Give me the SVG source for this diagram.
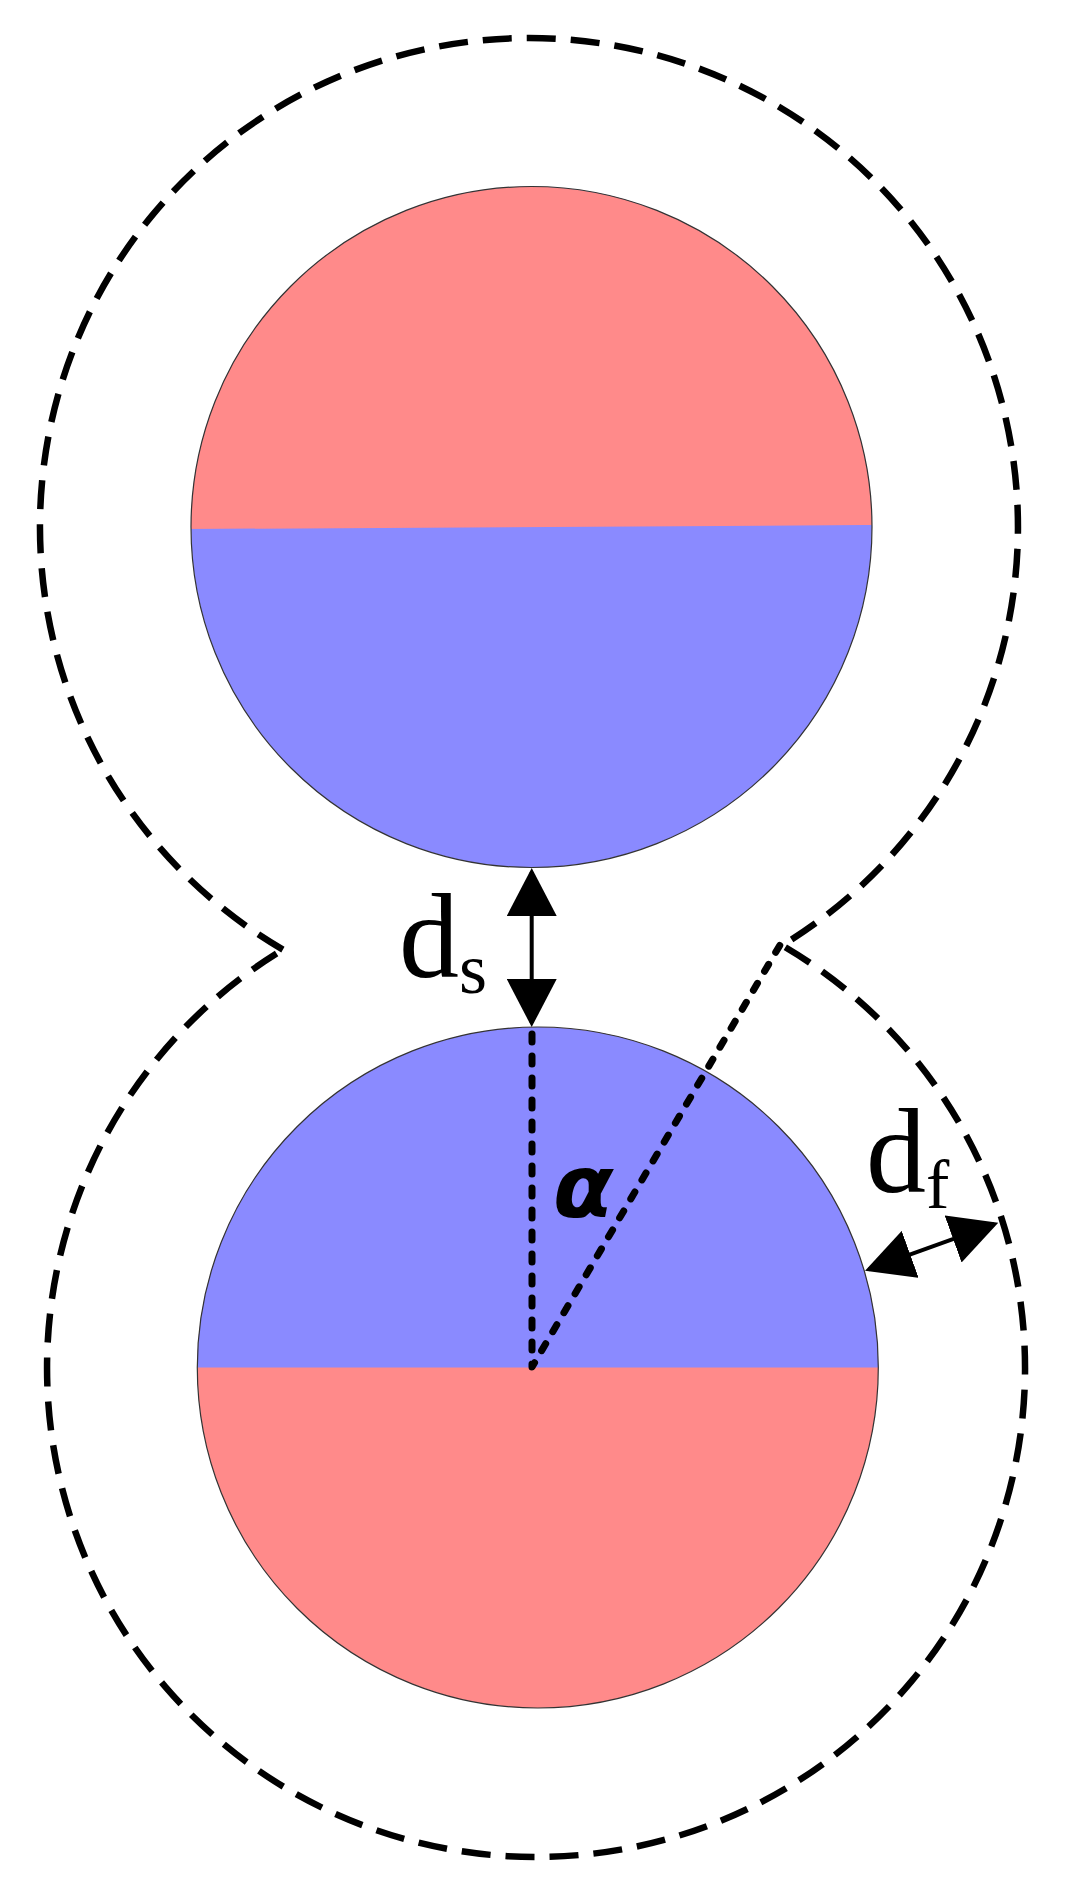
<svg xmlns="http://www.w3.org/2000/svg" width="1076" height="1897" viewBox="0 0 1076 1897">
<style>
.red{fill:#ff8a8a;stroke:none}
.blue{fill:#8a8aff;stroke:none}
.rim{fill:none;stroke:#333;stroke-width:1.2}
.outline{fill:none;stroke:#000;stroke-width:6.5;stroke-dasharray:29 15}
.dots{fill:none;stroke:#000;stroke-width:7;stroke-dasharray:8 14;stroke-linecap:round;stroke-linejoin:round}
.arrow{stroke:#000;stroke-width:4;marker-start:url(#ah);marker-end:url(#ah)}
.lbl{font-family:"Liberation Serif","Times New Roman",serif;fill:#000}
.alpha{font-family:"DejaVu Sans",sans-serif;font-weight:bold;font-style:italic;fill:#000}
</style>
<defs>
<marker id="ah" viewBox="0 0 48 50" markerWidth="48" markerHeight="50" markerUnits="userSpaceOnUse" refX="44" refY="25" orient="auto-start-reverse">
<path d="M0,0 L48,25 L0,50 Z" fill="#000"/>
</marker>
<clipPath id="topHalf">
<polygon points="150,0 900,0 900,524.84 150,529.24"/>
</clipPath>
<clipPath id="upperHalf">
<rect x="150" y="1000" width="750" height="367.5"/>
</clipPath>
</defs>
<rect width="1076" height="1897" fill="#fff"/>
<g id="outline">
<path class="outline" d="M282.9,949.6 A489,489 0 1 1 782.1,945.4 A489,489 0 1 1 282.9,949.6"/>
</g>
<g id="circle-top">
<circle class="blue" cx="531.5" cy="527" r="340.5"/>
<circle class="red" cx="531.5" cy="527" r="340.5" clip-path="url(#topHalf)"/>
<circle class="rim" cx="531.5" cy="527" r="340.5"/>
</g>
<g id="circle-bottom">
<circle class="red" cx="537.8" cy="1367.5" r="340.5"/>
<circle class="blue" cx="537.8" cy="1367.5" r="340.5" clip-path="url(#upperHalf)"/>
<circle class="rim" cx="537.8" cy="1367.5" r="340.5"/>
</g>
<g id="connectors">
<polyline class="dots" points="532,1034 532,1367 780,945"/>
<line class="arrow" x1="531.7" y1="872" x2="531.7" y2="1023"/>
<line class="arrow" x1="868.8" y1="1269.3" x2="994.5" y2="1224.1"/>
</g>
<g id="labels">
<text class="lbl" x="399" y="977" font-size="120">d<tspan font-size="72" dy="16">s</tspan></text>
<text class="lbl" x="866" y="1192" font-size="120">d<tspan font-size="70" dy="16">f</tspan></text>
<text class="alpha" x="553" y="1217" font-size="88">α</text>
</g>
</svg>
